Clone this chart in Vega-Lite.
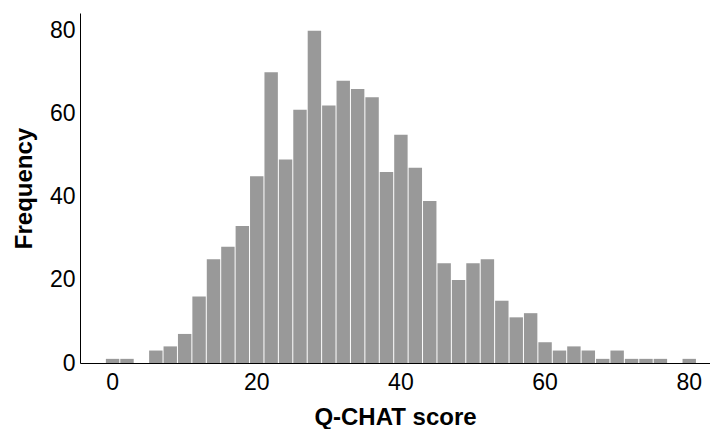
{
  "$schema": "https://vega.github.io/schema/vega-lite/v6.json",
  "width": 630,
  "height": 350,
  "autosize": {"type": "none"},
  "padding": {"left": 80, "top": 13, "right": 0, "bottom": 66},
  "background": "white",
  "config": {
    "view": {"stroke": null},
    "font": "Liberation Sans",
    "bar": {"binSpacing": 1}
  },
  "data": {
    "values": [
      {"bin_start": -1, "bin_end": 1, "count": 1},
      {"bin_start": 1, "bin_end": 3, "count": 1},
      {"bin_start": 5, "bin_end": 7, "count": 3},
      {"bin_start": 7, "bin_end": 9, "count": 4},
      {"bin_start": 9, "bin_end": 11, "count": 7},
      {"bin_start": 11, "bin_end": 13, "count": 16},
      {"bin_start": 13, "bin_end": 15, "count": 25},
      {"bin_start": 15, "bin_end": 17, "count": 28},
      {"bin_start": 17, "bin_end": 19, "count": 33},
      {"bin_start": 19, "bin_end": 21, "count": 45},
      {"bin_start": 21, "bin_end": 23, "count": 70},
      {"bin_start": 23, "bin_end": 25, "count": 49},
      {"bin_start": 25, "bin_end": 27, "count": 61},
      {"bin_start": 27, "bin_end": 29, "count": 80},
      {"bin_start": 29, "bin_end": 31, "count": 62},
      {"bin_start": 31, "bin_end": 33, "count": 68},
      {"bin_start": 33, "bin_end": 35, "count": 66},
      {"bin_start": 35, "bin_end": 37, "count": 64},
      {"bin_start": 37, "bin_end": 39, "count": 46},
      {"bin_start": 39, "bin_end": 41, "count": 55},
      {"bin_start": 41, "bin_end": 43, "count": 47},
      {"bin_start": 43, "bin_end": 45, "count": 39},
      {"bin_start": 45, "bin_end": 47, "count": 24},
      {"bin_start": 47, "bin_end": 49, "count": 20},
      {"bin_start": 49, "bin_end": 51, "count": 24},
      {"bin_start": 51, "bin_end": 53, "count": 25},
      {"bin_start": 53, "bin_end": 55, "count": 15},
      {"bin_start": 55, "bin_end": 57, "count": 11},
      {"bin_start": 57, "bin_end": 59, "count": 12},
      {"bin_start": 59, "bin_end": 61, "count": 5},
      {"bin_start": 61, "bin_end": 63, "count": 3},
      {"bin_start": 63, "bin_end": 65, "count": 4},
      {"bin_start": 65, "bin_end": 67, "count": 3},
      {"bin_start": 67, "bin_end": 69, "count": 1},
      {"bin_start": 69, "bin_end": 71, "count": 3},
      {"bin_start": 71, "bin_end": 73, "count": 1},
      {"bin_start": 73, "bin_end": 75, "count": 1},
      {"bin_start": 75, "bin_end": 77, "count": 1},
      {"bin_start": 79, "bin_end": 81, "count": 1}
    ]
  },
  "mark": {"type": "bar", "color": "#999999"},
  "encoding": {
    "x": {
      "field": "bin_start",
      "type": "quantitative",
      "bin": "binned",
      "scale": {"domain": [-4.45, 82.95], "nice": false, "zero": false},
      "axis": {
        "title": "Q-CHAT score",
        "values": [0, 20, 40, 60, 80],
        "format": "d",
        "ticks": false,
        "grid": false,
        "domainColor": "black",
        "domainWidth": 1,
        "labelFontSize": 23,
        "labelColor": "black",
        "labelPadding": 8,
        "labelFlush": false,
        "titleFontSize": 24,
        "titleFontWeight": "bold",
        "titleColor": "black",
        "titlePadding": 11
      }
    },
    "x2": {"field": "bin_end"},
    "y": {
      "field": "count",
      "type": "quantitative",
      "scale": {"domain": [0, 84.3], "nice": false},
      "axis": {
        "title": "Frequency",
        "values": [0, 20, 40, 60, 80],
        "ticks": false,
        "grid": false,
        "domainColor": "black",
        "domainWidth": 1,
        "labelFontSize": 23,
        "labelColor": "black",
        "labelPadding": 5,
        "labelFlush": false,
        "titleFontSize": 24,
        "titleFontWeight": "bold",
        "titleColor": "black",
        "titlePadding": 13
      }
    }
  }
}
